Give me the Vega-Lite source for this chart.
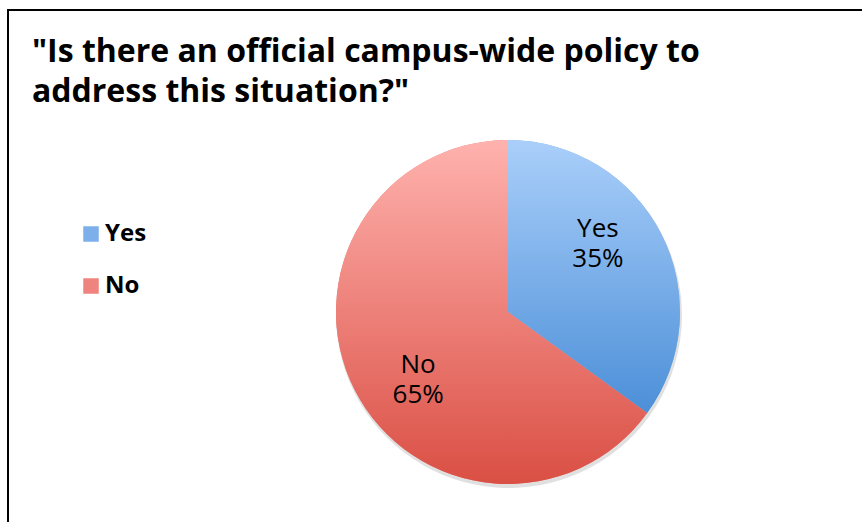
{
  "$schema": "https://vega.github.io/schema/vega-lite/v6.json",
  "autosize": {"type": "none"},
  "padding": {"left": 8, "top": 10, "right": 0, "bottom": 0},
  "width": 900,
  "height": 600,
  "background": "white",
  "config": {
    "view": {"stroke": null},
    "font": "Open Sans"
  },
  "title": {
    "text": ["\"Is there an official campus-wide policy to", "address this situation?\""],
    "orient": "top",
    "anchor": "start",
    "frame": "group",
    "offset": -100,
    "dx": 24,
    "font": "Open Sans",
    "fontSize": 32,
    "fontWeight": "bold",
    "lineHeight": 40,
    "color": "black"
  },
  "data": {
    "values": [
      {"answer": "Yes", "share": 0.35},
      {"answer": "No", "share": 0.65}
    ]
  },
  "layer": [
    {
      "mark": {"type": "rect", "fill": null, "stroke": "black", "strokeWidth": 2},
      "encoding": {
        "x": {"value": 0},
        "x2": {"value": "width"},
        "y": {"value": 0},
        "y2": {"value": "height"}
      }
    },
    {
      "mark": {"type": "arc", "radius": 173, "x": 501, "y": 305, "fill": "black", "opacity": 0.12},
      "encoding": {
        "theta": {"field": "share", "type": "quantitative", "stack": true},
        "order": {"field": "share", "sort": "ascending"}
      }
    },
    {
      "mark": {"type": "arc", "radius": 172, "x": 500, "y": 302},
      "encoding": {
        "theta": {"field": "share", "type": "quantitative", "stack": true},
        "order": {"field": "share", "sort": "ascending"},
        "color": {
          "field": "answer",
          "type": "nominal",
          "scale": {"domain": ["Yes", "No"], "range": ["#7DAFEA", "#EE847D"]},
          "legend": {
            "title": null,
            "orient": "none",
            "legendX": 71,
            "legendY": 212,
            "padding": 0,
            "symbolType": "square",
            "symbolSize": 240,
            "symbolStrokeWidth": 0,
            "symbolOpacity": 1,
            "labelFont": "Open Sans",
            "labelFontSize": 24,
            "labelFontWeight": "bold",
            "labelColor": "black",
            "labelOffset": 2,
            "rowPadding": 28
          }
        }
      }
    },
    {
      "mark": {"type": "arc", "radius": 172, "x": 500, "y": 302},
      "encoding": {
        "theta": {"field": "share", "type": "quantitative", "stack": true},
        "order": {"field": "share", "sort": "ascending"},
        "color": {
          "condition": {
            "test": "datum.answer === 'Yes'",
            "value": {"gradient": "linear", "x1": 0, "y1": 0, "x2": 0, "y2": 1, "stops": [{"offset": 0, "color": "#AACFFA"}, {"offset": 1, "color": "#4C8FD8"}]}
          },
          "value": {"gradient": "linear", "x1": 0, "y1": 0, "x2": 0, "y2": 1, "stops": [{"offset": 0, "color": "#FFB2AE"}, {"offset": 1, "color": "#DA4F44"}]}
        }
      }
    },
    {
      "transform": [
        {"calculate": "datum.answer + '\\n' + format(datum.share, '.0%')", "as": "label"}
      ],
      "mark": {"type": "text", "radius": 113, "thetaOffset": -0.18, "x": 500, "y": 302, "dy": -15, "fontSize": 26, "font": "Open Sans", "color": "black", "lineBreak": "\n", "lineHeight": 30, "baseline": "middle"},
      "encoding": {
        "theta": {"field": "share", "type": "quantitative", "stack": true},
        "order": {"field": "share", "sort": "ascending"},
        "text": {"field": "label", "type": "nominal"}
      }
    }
  ]
}
